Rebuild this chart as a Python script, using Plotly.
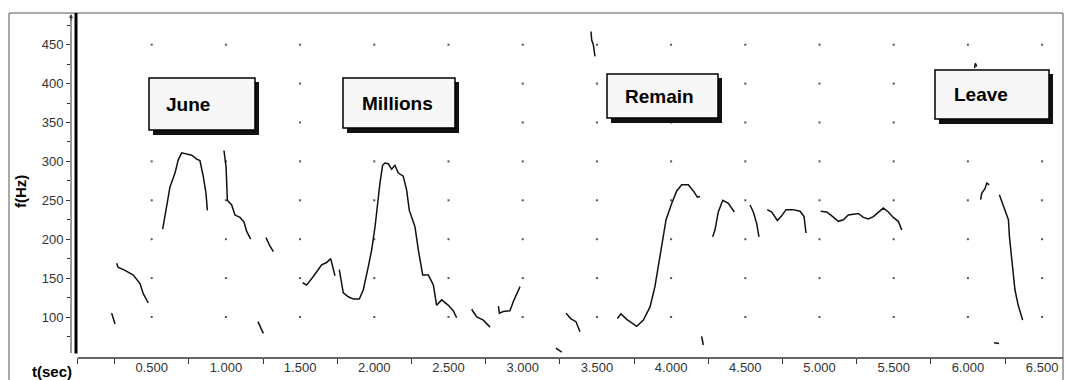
import plotly.graph_objects as go

# ---- pitch contour data (time in s, frequency in Hz); None separates voiced chunks ----
june_t = [0.230, 0.253, None,
          0.264, 0.273, 0.320, 0.376, 0.421, 0.443, 0.477, None,
          0.574, 0.601, 0.623, 0.657, 0.679, 0.702, 0.736, 0.770, 0.803, 0.825, 0.848, 0.866, 0.875, None,
          0.987, 1.001, 1.010, 1.039, 1.061, 1.095, 1.122, 1.140, 1.167, None,
          1.216, 1.252, None,
          1.270, 1.297, 1.320]
june_f = [105, 91, None,
          169, 164, 160, 154, 143, 130, 118, None,
          213, 242, 267, 285, 302, 311, 309, 308, 303, 301, 280, 259, 237, None,
          314, 293, 250, 244, 231, 228, 222, 210, 200, None,
          94, 79, None,
          202, 191, 184]

millions_t = [1.517, 1.544, 1.589, 1.645, 1.679, 1.706, 1.735, None,
              1.764, 1.780, 1.791, 1.825, 1.859, 1.899, 1.926, 1.960, 1.982, 2.005, 2.023, 2.038,
              2.056, 2.072, 2.094, 2.117, 2.139, 2.162, 2.195, 2.218, 2.236, 2.274, 2.297, 2.313,
              2.326, 2.364, 2.398, 2.420, 2.454, 2.499, 2.532, 2.555, None,
              2.656, 2.690, 2.735, 2.780, None,
              2.836, 2.843, 2.869, 2.914, 2.937, 2.982]
millions_f = [144, 141, 152, 167, 170, 175, 153, None,
              161, 145, 131, 126, 123, 123, 135, 165, 186, 216, 250, 272,
              295, 298, 297, 290, 295, 285, 281, 263, 237, 216, 186, 169,
              154, 154, 141, 115, 122, 115, 108, 99, None,
              110, 100, 96, 87, None,
              114, 105, 107, 108, 120, 139]

remain_t = [3.224, 3.263, None,
            3.292, 3.323, 3.359, 3.386, None,
            3.460, 3.465, 3.476, 3.487, None,
            3.638, 3.662, 3.701, 3.768, 3.813, 3.858, 3.891, 3.921, 3.943, 3.966, 4.004, 4.038,
            4.071, 4.116, 4.150, 4.177, 4.195, None,
            4.206, 4.217, None,
            4.280, 4.296, 4.318, 4.348, 4.386, 4.426, None,
            4.532, 4.554, 4.577, 4.592, None,
            4.648, 4.678, 4.716, 4.745, 4.774, 4.823, 4.869, 4.896, 4.909, None,
            5.008, 5.049, 5.089, 5.127, 5.161, 5.194, 5.228, 5.262, 5.295, 5.329, 5.363, 5.396,
            5.430, 5.464, 5.497, 5.531, 5.554]
remain_f = [60, 55, None,
            105, 98, 94, 81, None,
            467, 456, 450, 435, None,
            98, 104, 97, 88, 96, 113, 139, 173, 203, 225, 246, 262,
            270, 270, 262, 254, 255, None,
            75, 64, None,
            203, 212, 235, 250, 246, 235, None,
            244, 235, 220, 203, None,
            238, 235, 224, 230, 238, 238, 236, 229, 208, None,
            236, 235, 229, 223, 225, 231, 232, 233, 228, 226, 229, 234,
            240, 235, 228, 223, 212]

leave_t = [6.045, 6.050, 6.060, None,
           6.086, 6.093, 6.115, 6.127, 6.144, None,
           6.176, 6.210, None,
           6.212, 6.228, 6.250, 6.273, 6.280, 6.295, 6.317, 6.339, 6.369]
leave_f = [420, 426, 422, None,
           251, 259, 265, 272, 270, None,
           67, 66, None,
           257, 248, 238, 225, 203, 178, 135, 115, 96]

# ---- word labels ----
words = ["June", "Millions", "Remain", "Leave"]

# ---- axis ticks ----
x_tick_vals = [0.5, 1.0, 1.5, 2.0, 2.5, 3.0, 3.5, 4.0, 4.5, 5.0, 5.5, 6.0, 6.5]
x_tick_text = ["0.500", "1.000", "1.500", "2.000", "2.500", "3.000", "3.500",
               "4.000", "4.500", "5.000", "5.500", "6.000", "6.500"]
y_tick_vals = [100, 150, 200, 250, 300, 350, 400, 450]

# ---- layout geometry (pixels) ----
W, H = 1065, 380
ML, MR, MT, MB = 71, 2, 13, 22
PX_PER_S = 148.4
X0_PX = 77.5            # pixel of t = 0
PX_PER_HZ = 0.778
Y100_PX = 317.0         # pixel of f = 100


def t_of(px):
    return (px - X0_PX) / PX_PER_S


def f_of(py):
    return 100 + (Y100_PX - py) / PX_PER_HZ


xr = [t_of(ML), t_of(W - MR)]
yr = [f_of(H - MB), f_of(MT)]

fig = go.Figure()

# grid dots
gx, gy = [], []
for xv in x_tick_vals:
    for yv in y_tick_vals:
        gx.append(xv)
        gy.append(yv)
fig.add_trace(go.Scatter(x=gx, y=gy, mode="markers",
                         marker=dict(size=2, color="#555555", symbol="square"),
                         hoverinfo="skip", showlegend=False))

for tt, ff in [(june_t, june_f), (millions_t, millions_f), (remain_t, remain_f), (leave_t, leave_f)]:
    fig.add_trace(go.Scatter(x=tt, y=ff, mode="lines", connectgaps=False,
                             line=dict(color="#111111", width=1.5),
                             showlegend=False, hoverinfo="x+y"))

shapes = []
# outer frame
shapes.append(dict(type="rect", xref="paper", yref="paper",
                   x0=(9 - ML) / (W - ML - MR), x1=1.0,
                   y0=-(MB + 5) / (H - MT - MB), y1=1.0,
                   line=dict(color="#555555", width=1), layer="below"))
# thin y axis line (at plot edge)
shapes.append(dict(type="line", xref="paper", yref="y", x0=0, x1=0,
                   y0=f_of(353), y1=f_of(16), line=dict(color="#333333", width=1)))
# thick y axis bar
shapes.append(dict(type="line", xref="x", yref="y", x0=t_of(76), x1=t_of(76),
                   y0=f_of(353.5), y1=f_of(13), line=dict(color="#000000", width=3)))
# x axis line
shapes.append(dict(type="line", xref="x", yref="paper", x0=0, x1=xr[1],
                   y0=0, y1=0, line=dict(color="#333333", width=1.5)))

# word boxes (pixel boxes -> data coords)
boxes = [  # x0, y0, x1, y1 in px
    (149, 78, 255, 130),
    (343, 78, 455, 128),
    (607, 74, 718, 118),
    (935, 70, 1049, 119),
]
text_left = [164, 360, 623, 952]
for (x0, y0, x1, y1) in boxes:
    shapes.append(dict(type="rect", xref="x", yref="y",
                       x0=t_of(x0 + 4), x1=t_of(x1 + 4), y0=f_of(y1 + 5), y1=f_of(y0 + 4),
                       fillcolor="#111111", line=dict(width=0), layer="above"))
    shapes.append(dict(type="rect", xref="x", yref="y",
                       x0=t_of(x0), x1=t_of(x1), y0=f_of(y1), y1=f_of(y0),
                       fillcolor="#f7f7f7", line=dict(color="#000000", width=1.5), layer="above"))

annotations = []
for w, (x0, y0, x1, y1), tl in zip(words, boxes, text_left):
    annotations.append(dict(x=t_of(tl), y=f_of((y0 + y1) / 2), xref="x", yref="y",
                            text="<b>%s</b>" % w, showarrow=False, xanchor="left", yanchor="middle",
                            font=dict(family="Liberation Sans, Arial, sans-serif", size=19, color="#000000")))

annotations.append(dict(x=(52 - ML) / (W - ML - MR), y=-(372 - (H - MB)) / (H - MT - MB),
                        xref="paper", yref="paper", text="<b>t(sec)</b>", showarrow=False,
                        xanchor="center", yanchor="middle",
                        font=dict(family="Liberation Sans, Arial, sans-serif", size=15, color="#000000")))
annotations.append(dict(x=(20 - ML) / (W - ML - MR), y=((H - MB) - 192) / (H - MT - MB),
                        xref="paper", yref="paper", text="<b>f(Hz)</b>", showarrow=False,
                        textangle=-90, xanchor="center", yanchor="middle",
                        font=dict(family="Liberation Sans, Arial, sans-serif", size=15, color="#000000")))
# arrow tip on y axis
annotations.append(dict(x=0, y=f_of(14), xref="paper", yref="y", ax=0, ay=8,
                        showarrow=True, arrowhead=2, arrowsize=0.8, arrowwidth=1,
                        arrowcolor="#333333", text=""))

fig.update_layout(
    width=W, height=H,
    margin=dict(l=ML, r=MR, t=MT, b=MB),
    paper_bgcolor="white", plot_bgcolor="white",
    shapes=shapes, annotations=annotations,
    font=dict(family="Liberation Sans, Arial, sans-serif", color="#333333", size=13),
    xaxis=dict(range=xr, showgrid=False, zeroline=False, showline=False,
               tickvals=x_tick_vals, ticktext=x_tick_text, ticks="", ticklen=0,
               tickfont=dict(size=13, color="#333333"),
               minor=dict(tickvals=[0, 0.25, 0.75, 1.25, 1.75, 2.25, 2.75, 3.25, 3.75, 4.25,
                                    4.75, 5.25, 5.75, 6.25],
                          ticks="outside", ticklen=5, tickcolor="#333333", tickwidth=1)),
    yaxis=dict(range=yr, showgrid=False, zeroline=False, showline=False,
               tickvals=y_tick_vals, ticks="outside", ticklen=4, tickcolor="#333333",
               tickfont=dict(size=13, color="#333333"),
               minor=dict(tickvals=[75, 125, 175, 225, 275, 325, 375, 425, 475],
                          ticks="outside", ticklen=3, tickcolor="#333333")),
)

fig.write_html("out.html", config={"displayModeBar": False},
               post_script="document.body.style.margin='0';document.body.style.padding='0';")
